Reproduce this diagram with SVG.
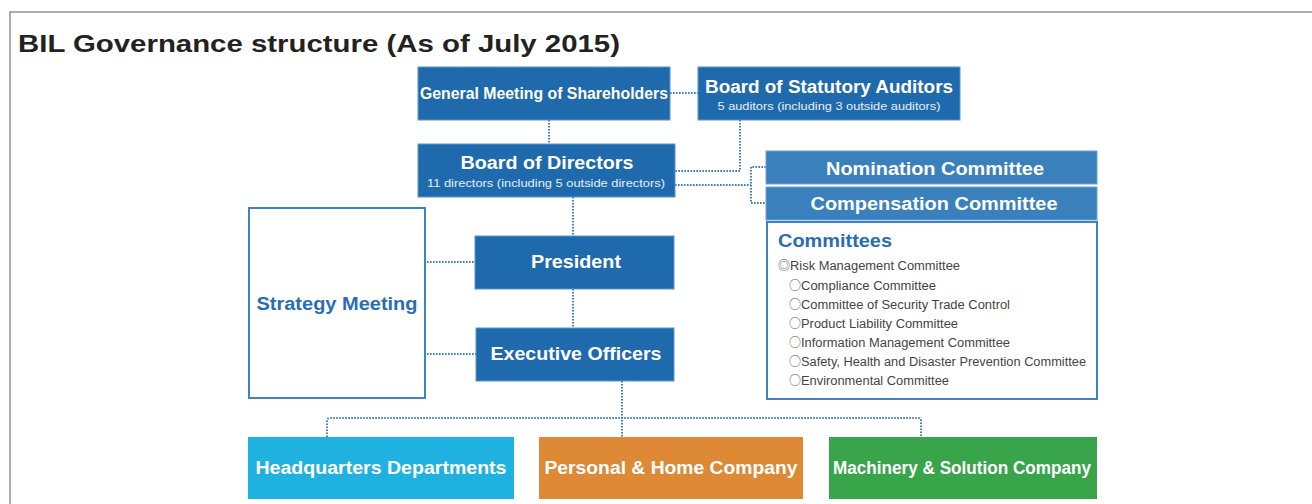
<svg xmlns="http://www.w3.org/2000/svg" width="1312" height="504" viewBox="0 0 1312 504">
<style>
.frame{fill:none;stroke:#9a9a9a;stroke-width:1.6}
.dark{fill:#1f6aad;stroke:#5b95cc;stroke-width:1}
.mid{fill:#3a80bd;stroke:#6fa3d3;stroke-width:1}
.outline{fill:#fff;stroke:#3f84c2;stroke-width:2}
.t{font-family:"Liberation Sans",Arial,sans-serif;font-weight:bold;fill:#fff}
.sub{font-family:"Liberation Sans",Arial,sans-serif;fill:#e4eef8}
.blue{font-family:"Liberation Sans",Arial,sans-serif;font-weight:bold;fill:#2a6db3}
.item{font-family:"Liberation Sans",Arial,sans-serif;font-size:12px;fill:#444}
.sym{font-family:"Noto Sans CJK JP","Noto Sans CJK SC",sans-serif;font-size:12px;fill:#555}
.conn path{fill:none;stroke:#3d7fbf;stroke-width:2;stroke-dasharray:1.6 1.4}
</style>
<rect x="0" y="0" width="1312" height="504" fill="#fff"/>
<rect class="frame" x="10" y="12" width="1320" height="520"/>
<text x="18" y="52" font-family="Liberation Sans,Arial,sans-serif" font-size="23" font-weight="bold" fill="#222" textLength="602" lengthAdjust="spacingAndGlyphs">BIL Governance structure (As of July 2015)</text>

<g class="conn">
<path d="M670 93 H698"/>
<path d="M549 120 V144"/>
<path d="M740 120 V171 H675"/>
<path d="M675 185 H751"/>
<path d="M766 167 H751 V203 H766"/>
<path d="M573 197 V236"/>
<path d="M573 289 V328"/>
<path d="M427 262 H475"/>
<path d="M427 354 H476"/>
<path d="M622 381 V437"/>
<path d="M327 437 V421 Q327 418 330 418 H918 Q921 418 921 421 V437"/>
</g>

<g id="general-meeting">
<rect class="dark" x="418" y="67" width="252" height="53"/>
<text class="t" x="544" y="99" font-size="17" text-anchor="middle" textLength="248" lengthAdjust="spacingAndGlyphs">General Meeting of Shareholders</text>
</g>
<g id="statutory-auditors">
<rect class="dark" x="698" y="67" width="262" height="53"/>
<text class="t" x="829" y="93" font-size="18" text-anchor="middle" textLength="248" lengthAdjust="spacingAndGlyphs">Board of Statutory Auditors</text>
<text class="sub" x="829" y="110" font-size="11.5" text-anchor="middle" textLength="223" lengthAdjust="spacingAndGlyphs">5 auditors (including 3 outside auditors)</text>
</g>
<g id="board-of-directors">
<rect class="dark" x="418" y="144" width="257" height="53"/>
<text class="t" x="547" y="169" font-size="18" text-anchor="middle" textLength="173" lengthAdjust="spacingAndGlyphs">Board of Directors</text>
<text class="sub" x="546" y="187" font-size="11" text-anchor="middle" textLength="238" lengthAdjust="spacingAndGlyphs">11 directors (including 5 outside directors)</text>
</g>
<g id="nomination-committee">
<rect class="mid" x="766" y="151" width="331" height="33"/>
<text class="t" x="935" y="175" font-size="18" text-anchor="middle" textLength="218" lengthAdjust="spacingAndGlyphs">Nomination Committee</text>
</g>
<g id="compensation-committee">
<rect class="mid" x="766" y="187" width="331" height="33"/>
<text class="t" x="934" y="210" font-size="18" text-anchor="middle" textLength="247" lengthAdjust="spacingAndGlyphs">Compensation Committee</text>
</g>
<g id="committees">
<rect class="outline" x="767" y="222" width="330" height="177"/>
<text class="blue" x="778" y="247" font-size="18" textLength="114" lengthAdjust="spacingAndGlyphs">Committees</text>
<text class="sym" x="778" y="270">◎</text><text class="item" x="790" y="270" textLength="170" lengthAdjust="spacingAndGlyphs">Risk Management Committee</text>
<text class="sym" x="789" y="290">○</text><text class="item" x="801" y="290" textLength="135" lengthAdjust="spacingAndGlyphs">Compliance Committee</text>
<text class="sym" x="789" y="309">○</text><text class="item" x="801" y="309" textLength="209" lengthAdjust="spacingAndGlyphs">Committee of Security Trade Control</text>
<text class="sym" x="789" y="328">○</text><text class="item" x="801" y="328" textLength="157" lengthAdjust="spacingAndGlyphs">Product Liability Committee</text>
<text class="sym" x="789" y="347">○</text><text class="item" x="801" y="347" textLength="209" lengthAdjust="spacingAndGlyphs">Information Management Committee</text>
<text class="sym" x="789" y="366">○</text><text class="item" x="801" y="366" textLength="285" lengthAdjust="spacingAndGlyphs">Safety, Health and Disaster Prevention Committee</text>
<text class="sym" x="789" y="385">○</text><text class="item" x="801" y="385" textLength="148" lengthAdjust="spacingAndGlyphs">Environmental Committee</text>
</g>
<g id="strategy-meeting">
<rect class="outline" x="249" y="208" width="176" height="190"/>
<text class="blue" x="337" y="310" font-size="18" text-anchor="middle" textLength="161" lengthAdjust="spacingAndGlyphs">Strategy Meeting</text>
</g>
<g id="president">
<rect class="dark" x="475" y="236" width="199" height="53"/>
<text class="t" x="576" y="268" font-size="18" text-anchor="middle" textLength="90" lengthAdjust="spacingAndGlyphs">President</text>
</g>
<g id="executive-officers">
<rect class="dark" x="476" y="328" width="198" height="53"/>
<text class="t" x="576" y="360" font-size="18" text-anchor="middle" textLength="171" lengthAdjust="spacingAndGlyphs">Executive Officers</text>
</g>
<g id="headquarters">
<rect x="248" y="437" width="266" height="62" fill="#1fb1df"/>
<text class="t" x="381" y="474" font-size="18" text-anchor="middle" textLength="251" lengthAdjust="spacingAndGlyphs">Headquarters Departments</text>
</g>
<g id="personal-home">
<rect x="539" y="437" width="264" height="62" fill="#dd8935"/>
<text class="t" x="671" y="474" font-size="18" text-anchor="middle" textLength="253" lengthAdjust="spacingAndGlyphs">Personal &amp; Home Company</text>
</g>
<g id="machinery-solution">
<rect x="829" y="437" width="268" height="62" fill="#38a54a"/>
<text class="t" x="962" y="474" font-size="18" text-anchor="middle" textLength="258" lengthAdjust="spacingAndGlyphs">Machinery &amp; Solution Company</text>
</g>
</svg>
